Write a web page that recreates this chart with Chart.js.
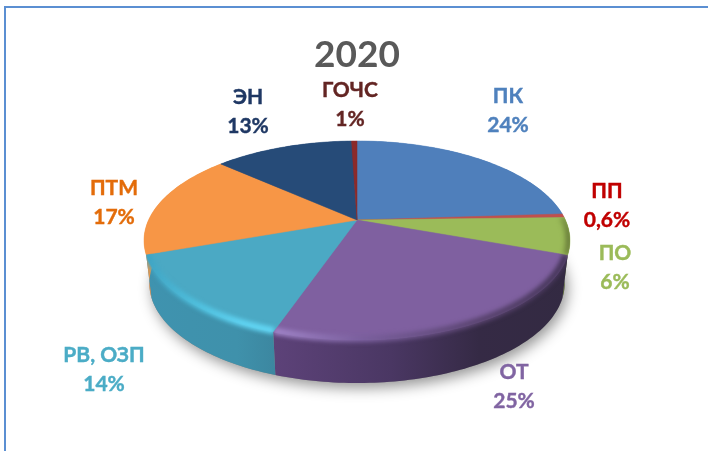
<!DOCTYPE html>
<html><head><meta charset="utf-8">
<script src="https://cdn.jsdelivr.net/npm/chart.js@4"></script>
<style>html,body{margin:0;padding:0;background:#fff}canvas{display:block}</style>
</head><body><canvas id="c" width="708" height="451"></canvas>
<script>
const categories = ["ПК","ПП","ПО","ОТ","РВ, ОЗП","ПТМ","ЭН","ГОЧС"];
const values = [24,0.6,6,24.7,14.3,17.15,12.85,0.5];
const valueLabels = ["24%","0,6%","6%","25%","14%","17%","13%","1%"];
const chartTitle = "2020";
const topColors = ["#4f7fbb","#c0504d","#9bbb59","#7f60a0","#4ba9c4","#f79646","#264b78","#8b2a2a"];
const labelColors = ["#4f81bd","#c00000","#9bbb59","#8064a2","#4bacc6","#e36c0a","#1f3864","#632523"];
const labelPos = [[508,96],[607,191],[615,253],[514,372],[104,355],[114,188],[248,97],[350,90]];
const wallStops = [null,null,[["0","#5f7330"],["1","#4f6028"]],
  [["0","#5d4279"],["0.4","#4a3763"],["0.7","#352a45"],["1","#332a42"]],
  [["0","#3f93af"],["0.7","#3f91ab"],["1","#3c87a0"]],
  [["0","#e8954a"],["1","#e8954a"]],null,null];
const bevelStops = [null,null,[["0","#7f9a45"],["1","#66783a"]],
  [["0","#a084c8"],["0.3","#7a5f9d"],["0.7","#5a4470"],["1","#46365a"]],
  [["0","#3fa3c2"],["0.4","#4fc0de"],["0.75","#5fd3f2"],["1","#62d6f4"]],
  null,null,null];
const geo = {cx:357, cy:220, A:208.4, B:95.3, k:0.206, wall:43, shrink:0.975};

function proj(a, s){
  s = s || 1;
  const u = Math.cos(a)*s, v = Math.sin(a)*s, w = 1-geo.k*v;
  return [geo.cx+geo.A*u/w, geo.cy+geo.B*v/w];
}
function low(a){
  const p = proj(a);
  return [geo.cx+(p[0]-geo.cx)*geo.shrink, p[1]+geo.wall];
}
function samples(a0,a1){
  const n = Math.max(2, Math.ceil((a1-a0)/0.02)), r = [];
  for(let i=0;i<=n;i++) r.push(a0+(a1-a0)*i/n);
  return r;
}
function horiz(ctx, x0, x1, stops){
  const g = ctx.createLinearGradient(x0,0,x1,0);
  stops.forEach(s=>g.addColorStop(+s[0],s[1]));
  return g;
}
const pie3d = {
  id:'pie3d',
  beforeDraw(chart){
    const c = chart.ctx;
    c.save();
    c.fillStyle='#fff'; c.fillRect(0,0,708,451);
    c.fillStyle='#5b8fd2';
    c.fillRect(4,6,704,2); c.fillRect(4,6,2,445);
    c.restore();
  },
  beforeDatasetDraw(chart){
    const c = chart.ctx, arcs = chart.getDatasetMeta(0).data;
    c.save();
    c.shadowColor='rgba(0,0,0,0.42)'; c.shadowBlur=14; c.shadowOffsetY=5; c.shadowOffsetX=3;
    c.fillStyle='#888';
    c.beginPath();
    samples(0,Math.PI*2).forEach((a,i)=>{const p=low(a); i?c.lineTo(p[0],p[1]):c.moveTo(p[0],p[1]);});
    c.closePath(); c.fill();
    c.restore();
    arcs.forEach((el,i)=>{
      const st = wallStops[i];
      const pts = samples(el.startAngle, el.endAngle);
      const top = pts.map(a=>proj(a)), bot = pts.map(low);
      const xs = top.concat(bot).map(p=>p[0]);
      c.beginPath();
      top.forEach((p,j)=>j?c.lineTo(p[0],p[1]):c.moveTo(p[0],p[1]));
      bot.reverse().forEach(p=>c.lineTo(p[0],p[1]));
      c.closePath();
      c.fillStyle = st ? horiz(c, Math.min(...xs), Math.max(...xs), st) : topColors[i];
      c.fill();
    });
    arcs.forEach((el,i)=>{
      c.beginPath();
      c.moveTo(geo.cx,geo.cy);
      samples(el.startAngle, el.endAngle).forEach(a=>{const p=proj(a); c.lineTo(p[0],p[1]);});
      c.closePath();
      c.fillStyle = topColors[i];
      c.fill();
      c.strokeStyle = topColors[i]; c.lineWidth=0.5; c.stroke();
    });
    arcs.forEach((el,i)=>{
      const st = bevelStops[i]; if(!st) return;
      const pts = samples(el.startAngle, el.endAngle);
      const xs = pts.map(a=>proj(a)[0]);
      c.save();
      c.beginPath();
      c.moveTo(geo.cx,geo.cy);
      pts.forEach(a=>{const p=proj(a); c.lineTo(p[0],p[1]);});
      c.closePath();
      pts.forEach((a,j)=>{const p=proj(a); j?c.lineTo(p[0],p[1]):c.moveTo(p[0],p[1]);});
      pts.slice().reverse().forEach(a=>{const p=low(a); c.lineTo(p[0],p[1]);});
      c.closePath();
      c.clip('nonzero');
      c.filter='blur(2px)';
      c.strokeStyle = horiz(c, Math.min(...xs), Math.max(...xs), st);
      c.lineWidth=7;
      c.beginPath();
      pts.forEach((a,j)=>{const p=proj(a,0.992); j?c.lineTo(p[0],p[1]):c.moveTo(p[0],p[1]);});
      c.stroke();
      c.restore();
    });
    c.save();
    c.textAlign='center'; c.textBaseline='middle';
    c.font='bold 21px Lato, "Noto Sans", sans-serif';
    c.lineWidth=0.4;
    categories.forEach((name,i)=>{
      c.fillStyle = labelColors[i]; c.strokeStyle = labelColors[i];
      [[name,0],[valueLabels[i],29]].forEach(t=>{
        c.fillText(t[0], labelPos[i][0], labelPos[i][1]+t[1]);
        c.strokeText(t[0], labelPos[i][0], labelPos[i][1]+t[1]);
      });
    });
    c.restore();
    return false;
  }
};
new Chart(document.getElementById('c'),{
  type:'pie',
  data:{labels:categories,datasets:[{data:values,backgroundColor:topColors,borderWidth:0}]},
  options:{
    responsive:false, animation:false,
    layout:{padding:{left:6}},
    plugins:{
      legend:{display:false}, tooltip:{enabled:false},
      title:{display:true,text:chartTitle,color:'#595959',
        font:{family:'Lato, "Open Sans", sans-serif',size:37,weight:'bold'},
        padding:{top:33,bottom:4}}
    }
  },
  plugins:[pie3d]
});
</script></body></html>
